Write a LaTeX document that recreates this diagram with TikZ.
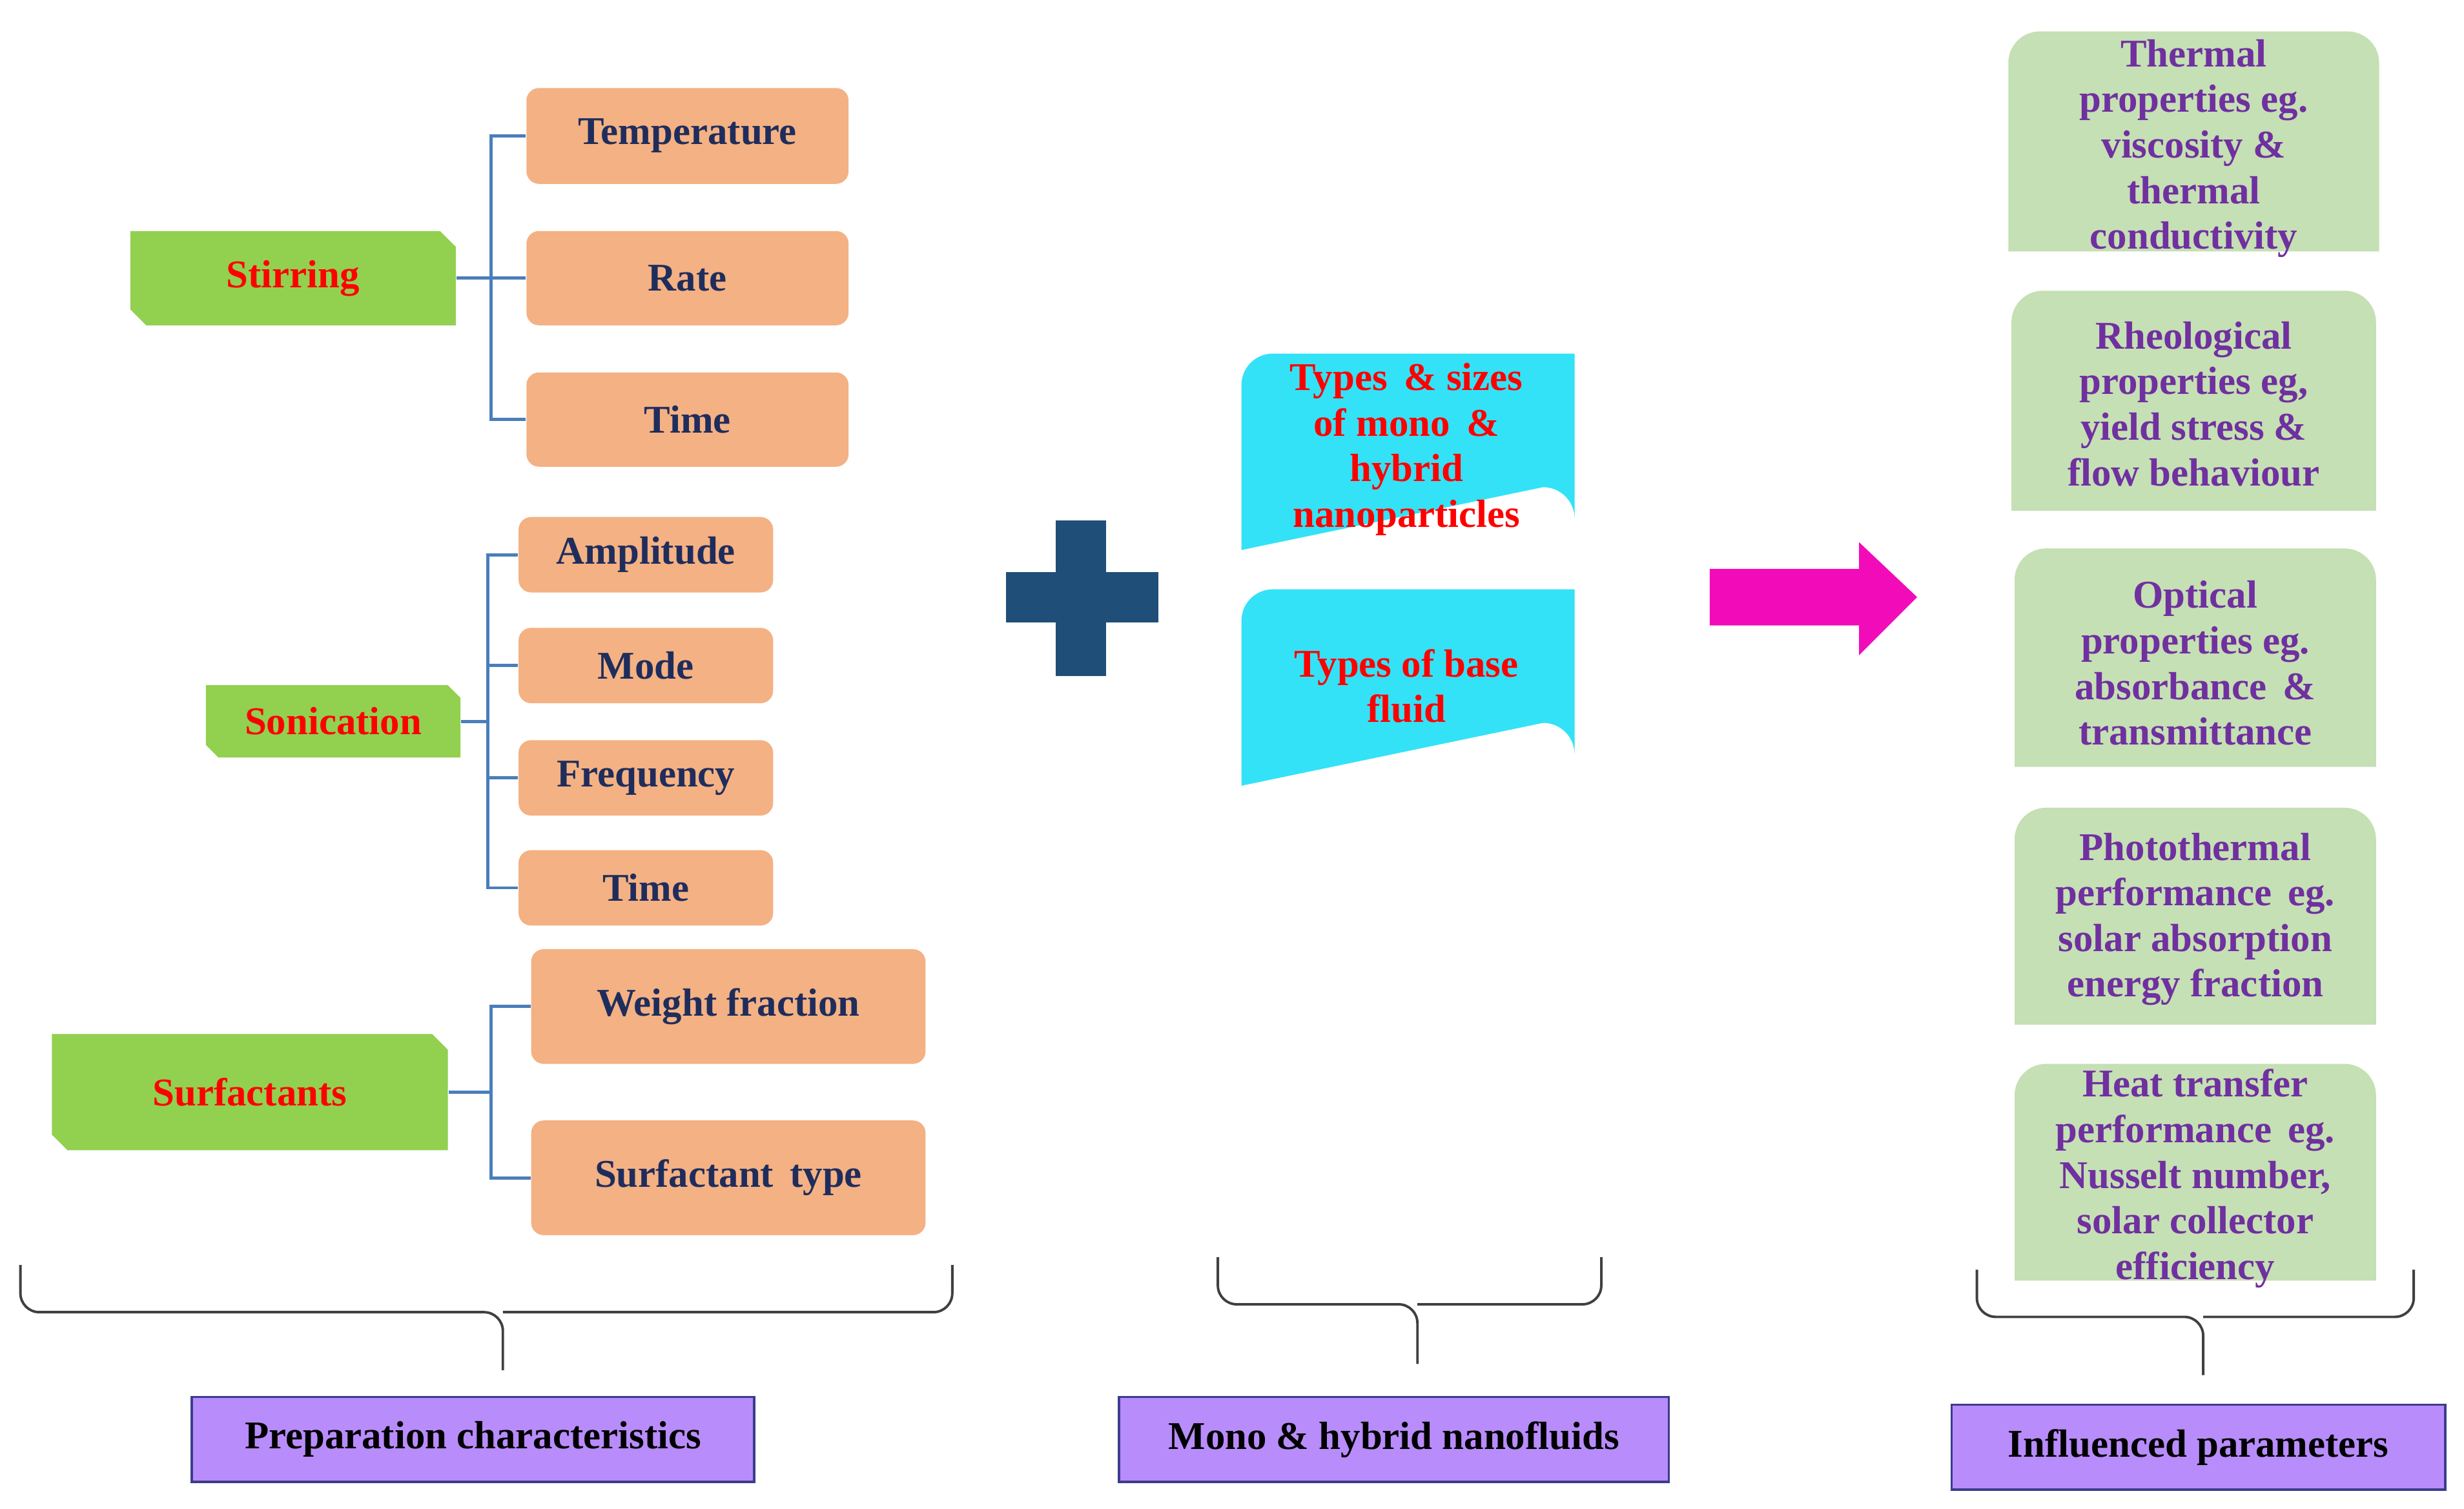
\documentclass[tikz,border=0pt]{standalone}
\usepackage{fontspec}
\setmainfont{Liberation Serif}
\definecolor{org}{HTML}{F4B183}
\definecolor{grn}{HTML}{92D050}
\definecolor{lgrn}{HTML}{C5E0B4}
\definecolor{cyn}{HTML}{33E2F6}
\definecolor{navy}{HTML}{1F2D5C}
\definecolor{lnc}{HTML}{4A7EBB}
\definecolor{plus}{HTML}{1F4E79}
\definecolor{mag}{HTML}{F20CB9}
\definecolor{purp}{HTML}{7030A0}
\definecolor{lav}{HTML}{B88CFA}
\definecolor{bord}{HTML}{3C3C8C}
\begin{document}
\begin{tikzpicture}[x=0.5pt,y=-0.5pt,
  txt/.style={font=\bfseries\fontsize{12.5}{14.5}\selectfont},
  obox/.style={txt,fill=org,rounded corners=4pt,text=navy,inner sep=0pt},
  gtxt/.style={txt,text=red,inner sep=0pt},
  rtxt/.style={txt,text=purp,align=center,inner sep=0pt},
  ctxt/.style={txt,text=red,align=center,inner sep=0pt},
  conn/.style={draw=lnc,line width=1pt},
  brace/.style={draw=black!75,line width=0.8pt,rounded corners=6pt},
  lab/.style={draw=bord,line width=0.7pt,fill=lav,font=\bfseries\fontsize{12.5}{14}\selectfont,inner sep=0pt}]
\useasboundingbox (0,0) rectangle (1568,960);
% orange boxes
\node[obox,minimum width=102.5pt,minimum height=30.5pt] (temp) at (437.5,86.5) {Temperature};
\node[obox,minimum width=102.5pt,minimum height=30pt] (rate) at (437.5,177) {Rate};
\node[obox,minimum width=102.5pt,minimum height=30pt] (time) at (437.5,267) {Time};
\node[obox,minimum width=81pt,minimum height=24pt] (amp) at (411,353) {Amplitude};
\node[obox,minimum width=81pt,minimum height=24pt] (mode) at (411,423.5) {Mode};
\node[obox,minimum width=81pt,minimum height=24pt] (freq) at (411,495) {Frequency};
\node[obox,minimum width=81pt,minimum height=24pt] (time2) at (411,565) {Time};
\node[obox,minimum width=125.5pt,minimum height=36.5pt] (wf) at (463.5,640.5) {Weight fraction};
\node[obox,minimum width=125.5pt,minimum height=36.5pt] (st) at (463.5,749.5) {Surfactant\, type};
% green chamfered boxes
\fill[grn] (83,147)--(280,147)--(290,157)--(290,207)--(93,207)--(83,197)--cycle;
\node[gtxt,minimum width=103.5pt,minimum height=30pt] (stir) at (186.5,177) {Stirring};
\fill[grn] (131,436)--(285,436)--(293,444)--(293,482)--(139,482)--(131,474)--cycle;
\node[gtxt,minimum width=81pt,minimum height=23pt] (son) at (212,459) {Sonication};
\fill[grn] (33,658)--(275,658)--(285,668)--(285,732)--(43,732)--(33,722)--cycle;
\node[gtxt,minimum width=126pt,minimum height=37pt] (surf) at (159,695) {Surfactants};
% connectors
\draw[conn] (temp.west) -- ++(-11pt,0) |- (time.west);
\draw[conn] (stir.east) -- (rate.west);
\draw[conn] (amp.west) -- ++(-9.5pt,0) |- (time2.west);
\draw[conn] (mode.west) -- ++(-9.5pt,0);
\draw[conn] (freq.west) -- ++(-9.5pt,0);
\draw[conn] (son.east) -- ++(9pt,0);
\draw[conn] (wf.west) -- ++(-12.5pt,0) |- (st.west);
\draw[conn] (surf.east) -- ++(14pt,0);
% plus
\fill[plus] (640,364) rectangle (737,396);
\fill[plus] (672,331) rectangle (704,430);
% cyan boxes
\fill[cyn] (790,350) -- (790,245) arc[start angle=180,end angle=90,radius=10pt] -- (1002,225) -- (1002,330) arc[start angle=0,end angle=90,radius=10pt] -- cycle;
\node[ctxt] (np) at (895,286) {Types \,\& sizes\\of mono \,\&\\hybrid\\nanoparticles};
\fill[cyn] (790,500) -- (790,395) arc[start angle=180,end angle=90,radius=10pt] -- (1002,375) -- (1002,480) arc[start angle=0,end angle=90,radius=10pt] -- cycle;
\node[ctxt] (bf) at (895,436.5) {Types of base\\fluid};
% magenta arrow
\fill[mag] (1088,362) -- (1183,362) -- (1183,345) -- (1220,380) -- (1183,417) -- (1183,398) -- (1088,398) -- cycle;
% right green boxes
\fill[lgrn] (1278,160) -- (1278,40) arc[start angle=180,end angle=90,radius=10pt] -- (1494,20) arc[start angle=90,end angle=0,radius=10pt] -- (1514,160) -- cycle;
\node[rtxt] (th) at (1396,94.5) {Thermal\\properties eg.\\viscosity \&\\thermal\\conductivity};
\fill[lgrn] (1280,325) -- (1280,205) arc[start angle=180,end angle=90,radius=10pt] -- (1492,185) arc[start angle=90,end angle=0,radius=10pt] -- (1512,325) -- cycle;
\node[rtxt] (rh) at (1396,257) {Rheological\\properties eg,\\yield stress \&\\flow behaviour};
\fill[lgrn] (1282,488) -- (1282,369) arc[start angle=180,end angle=90,radius=10pt] -- (1492,349) arc[start angle=90,end angle=0,radius=10pt] -- (1512,488) -- cycle;
\node[rtxt] (op) at (1397,422) {Optical\\properties eg.\\absorbance \,\&\\transmittance};
\fill[lgrn] (1282,652) -- (1282,534) arc[start angle=180,end angle=90,radius=10pt] -- (1492,514) arc[start angle=90,end angle=0,radius=10pt] -- (1512,652) -- cycle;
\node[rtxt] (ph) at (1397,585) {Photothermal\\performance \,eg.\\solar absorption\\energy fraction};
\fill[lgrn] (1282,815) -- (1282,697) arc[start angle=180,end angle=90,radius=10pt] -- (1492,677) arc[start angle=90,end angle=0,radius=10pt] -- (1512,815) -- cycle;
\node[rtxt] (ht) at (1397,750) {Heat transfer\\performance \,eg.\\Nusselt number,\\solar collector\\efficiency};
% braces
\draw[brace] (13,805) -- (13,835) -- (320,835) -- (320,872);
\draw[brace] (320,835) -- (606,835) -- (606,805);
\draw[brace] (775,800) -- (775,830) -- (902,830) -- (902,868);
\draw[brace] (902,830) -- (1019,830) -- (1019,800);
\draw[brace] (1258,808) -- (1258,838) -- (1402,838) -- (1402,875);
\draw[brace] (1402,838) -- (1536,838) -- (1536,808);
% labels
\node[lab,minimum width=179pt,minimum height=27pt] (l1) at (301,916) {Preparation characteristics};
\node[lab,minimum width=175pt,minimum height=27pt] (l2) at (887,916) {Mono \& hybrid nanofluids};
\node[lab,minimum width=157pt,minimum height=27pt] (l3) at (1399,921) {Influenced parameters};
\end{tikzpicture}
\end{document}
